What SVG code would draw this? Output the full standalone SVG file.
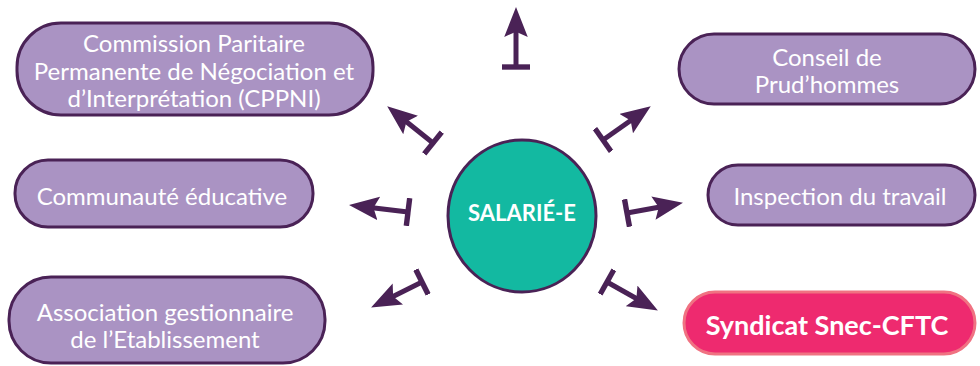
<svg xmlns="http://www.w3.org/2000/svg" width="980" height="366" viewBox="0 0 980 366">
<style>
.node{fill:#aa93c3;stroke:#4a2256;stroke-width:3}
.lbl{font-family:Lato,"Liberation Sans",sans-serif;font-size:24px;fill:#ffffff;text-anchor:middle}
.conn{stroke:#4a2256;stroke-width:5;fill:none;marker-start:url(#tbar);marker-end:url(#head)}
</style>
<defs>
<marker id="head" markerUnits="userSpaceOnUse" markerWidth="30" markerHeight="24" viewBox="0 0 28 22" refX="14" refY="11" orient="auto">
<path d="M0,0 L28,11 L0,22 L5,11 Z" fill="#4a2256"/>
</marker>
<marker id="tbar" markerUnits="userSpaceOnUse" markerWidth="8" markerHeight="28" viewBox="-3 -13 6 26" refX="0" refY="0" orient="auto">
<rect x="-2.5" y="-13" width="5" height="26" fill="#4a2256"/>
</marker>
</defs>
<rect width="980" height="366" fill="#ffffff"/>
<g id="connectors">
<path class="conn" d="M516,67 L516,22"/>
<path class="conn" d="M433,143 L398.9,115.7"/>
<path class="conn" d="M603,140 L638.5,115"/>
<path class="conn" d="M408,212 L363.9,206.7"/>
<path class="conn" d="M627,213 L668.2,205.5"/>
<path class="conn" d="M422,282 L384.5,300.7"/>
<path class="conn" d="M607,282 L644.8,303.2"/>
</g>
<g id="salarie">
<ellipse cx="522" cy="216" rx="74" ry="76" fill="#13b9a1" stroke="#4a2256" stroke-width="3"/>
<text x="522" y="221" font-family="Lato,'Liberation Sans',sans-serif" font-size="22" font-weight="bold" fill="#ffffff" text-anchor="middle">SALARIÉ-E</text>
</g>
<g id="cppni">
<rect class="node" x="17" y="23" width="356" height="92" rx="44"/>
<text class="lbl" x="194" y="52">Commission Paritaire</text>
<text class="lbl" x="194" y="80">Permanente de Négociation et</text>
<text class="lbl" x="194" y="107">d’Interprétation (CPPNI)</text>
</g>
<g id="communaute">
<rect class="node" x="15" y="160" width="298" height="67" rx="33"/>
<text class="lbl" x="162" y="205">Communauté éducative</text>
</g>
<g id="association">
<rect class="node" x="9" y="277" width="316" height="86" rx="42"/>
<text class="lbl" x="165" y="321">Association gestionnaire</text>
<text class="lbl" x="165" y="348">de l’Etablissement</text>
</g>
<g id="prudhommes">
<rect class="node" x="679" y="34" width="296" height="70" rx="35"/>
<text class="lbl" x="827" y="66">Conseil de</text>
<text class="lbl" x="827" y="93">Prud’hommes</text>
</g>
<g id="inspection">
<rect class="node" x="708" y="165" width="267" height="60" rx="30"/>
<text class="lbl" x="840" y="205">Inspection du travail</text>
</g>
<g id="syndicat">
<rect x="684" y="292" width="291" height="62" rx="31" fill="#ee2a6f" stroke="#f07282" stroke-width="3"/>
<text x="827" y="335" font-family="Lato,'Liberation Sans',sans-serif" font-size="27" font-weight="bold" fill="#ffffff" text-anchor="middle">Syndicat Snec-CFTC</text>
</g>
</svg>
